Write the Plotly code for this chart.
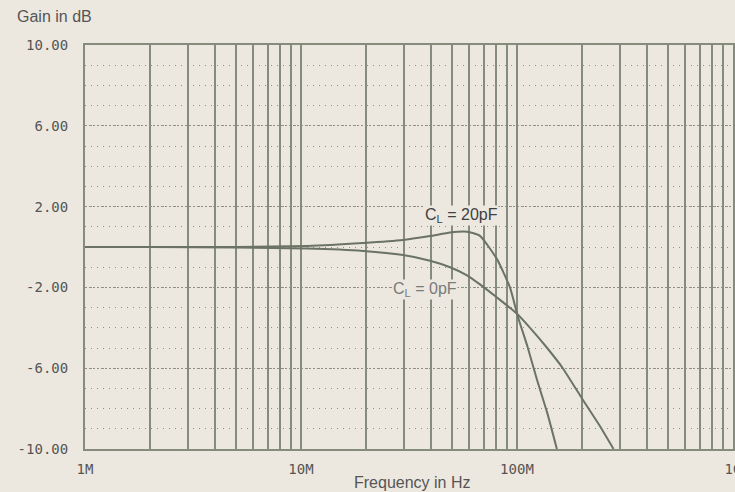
import plotly.graph_objects as go

# ---- data ----
freq_0pF = [1e6, 2e6, 5e6, 10.7e6, 19.4e6, 29.7e6, 39.6e6, 49e6, 58.7e6, 67.4e6, 80.8e6,
            100e6, 115e6, 138e6, 163e6, 200e6, 240e6, 280e6]
gain_0pF = [0, 0, -0.03, -0.08, -0.2, -0.4, -0.68, -1.0, -1.4, -1.85, -2.5,
            -3.3, -4.0, -5.0, -6.0, -7.5, -8.8, -10.0]

freq_20pF = [1e6, 2e6, 5e6, 10.7e6, 19.4e6, 29.7e6, 39.6e6, 49e6, 58.7e6, 67.4e6,
             80.8e6, 92.8e6, 101e6, 112e6, 124e6, 138e6, 153e6]
gain_20pF = [0, 0, 0.0, 0.05, 0.2, 0.35, 0.54, 0.72, 0.76, 0.55,
             -0.6, -2.0, -3.45, -4.95, -6.6, -8.2, -10.0]

y_ticks = [-10, -6, -2, 2, 6, 10]
x_decades = [1e6, 1e7, 1e8, 1e9]
x_decade_labels = ["1M", "10M", "100M", "1G"]

label_20 = "C<sub>L</sub> = 20pF"
label_0 = "C<sub>L</sub> = 0pF"

# ---- styling ----
BG = "#ece8e0"
CURVE = "#6b7364"
VGRID = "#858c7c"
HGRID = "#8f8f8a"
TXT = "#555555"

# x tick positions: every 1..9 x decade
x_tickvals, x_ticktext = [], []
for i, d in enumerate(x_decades):
    for m in range(1, 10):
        v = d * m
        if v > x_decades[-1]:
            break
        x_tickvals.append(v)
        x_ticktext.append(x_decade_labels[i] if m == 1 else "")

fig = go.Figure()
fig.add_trace(go.Scatter(x=freq_0pF, y=gain_0pF, mode="lines",
                         line=dict(color=CURVE, width=2, shape="spline", smoothing=0.5),
                         showlegend=False, hoverinfo="skip"))
fig.add_trace(go.Scatter(x=freq_20pF, y=gain_20pF, mode="lines",
                         line=dict(color=CURVE, width=2, shape="spline", smoothing=0.5),
                         showlegend=False, hoverinfo="skip"))

fig.update_layout(
    width=735, height=492,
    margin=dict(l=85, r=2, t=45, b=43, autoexpand=False),
    paper_bgcolor=BG, plot_bgcolor=BG,
    font=dict(family="Liberation Sans, Arial, sans-serif", color=TXT),
    xaxis=dict(
        type="log", range=[6, 9.0002], automargin=False,
        tickmode="array", tickvals=x_tickvals, ticktext=x_ticktext,
        showgrid=True, gridcolor=VGRID, gridwidth=1.5,
        showline=True, linecolor=VGRID, linewidth=2, mirror=True,
        ticks="", ticklabelstandoff=6, ticklabeloverflow="allow",
        tickfont=dict(family="DejaVu Sans Mono, monospace", size=14, color=TXT),
        zeroline=False,
    ),
    yaxis=dict(
        range=[-10, 10], automargin=False,
        tickmode="array", tickvals=y_ticks, ticktext=[f"{v:.2f}" for v in y_ticks],
        showgrid=True, gridcolor=HGRID, gridwidth=1, griddash="2px,2px",
        minor=dict(dtick=1, tick0=0, showgrid=True, gridcolor=HGRID, gridwidth=1,
                   griddash="1px,5px"),
        showline=True, linecolor=VGRID, linewidth=2, mirror=True,
        ticks="", ticklabelstandoff=12,
        tickfont=dict(family="DejaVu Sans Mono, monospace", size=14, color=TXT),
        zeroline=False,
    ),
    annotations=[
        dict(text="Gain in dB", xref="paper", yref="paper", x=-85/648, y=1 + 28/404,
             xanchor="left", yanchor="middle", showarrow=False,
             font=dict(size=16, color=TXT), xshift=15),
        dict(text="Frequency in Hz", xref="paper", yref="paper", x=(412-85)/648, y=-33/404,
             xanchor="center", yanchor="middle", showarrow=False,
             font=dict(size=16, color=TXT)),
        dict(text=label_20, x=7.741, y=1.58, xref="x", yref="y", showarrow=False,
             font=dict(size=16, color="#3f3f3f"), bgcolor=BG, borderpad=0),
        dict(text=label_0, x=7.574, y=-2.08, xref="x", yref="y", showarrow=False,
             font=dict(size=16, color="#7a7a7a"), bgcolor=BG, borderpad=0),
    ],
)

fig.write_html("out.html")
